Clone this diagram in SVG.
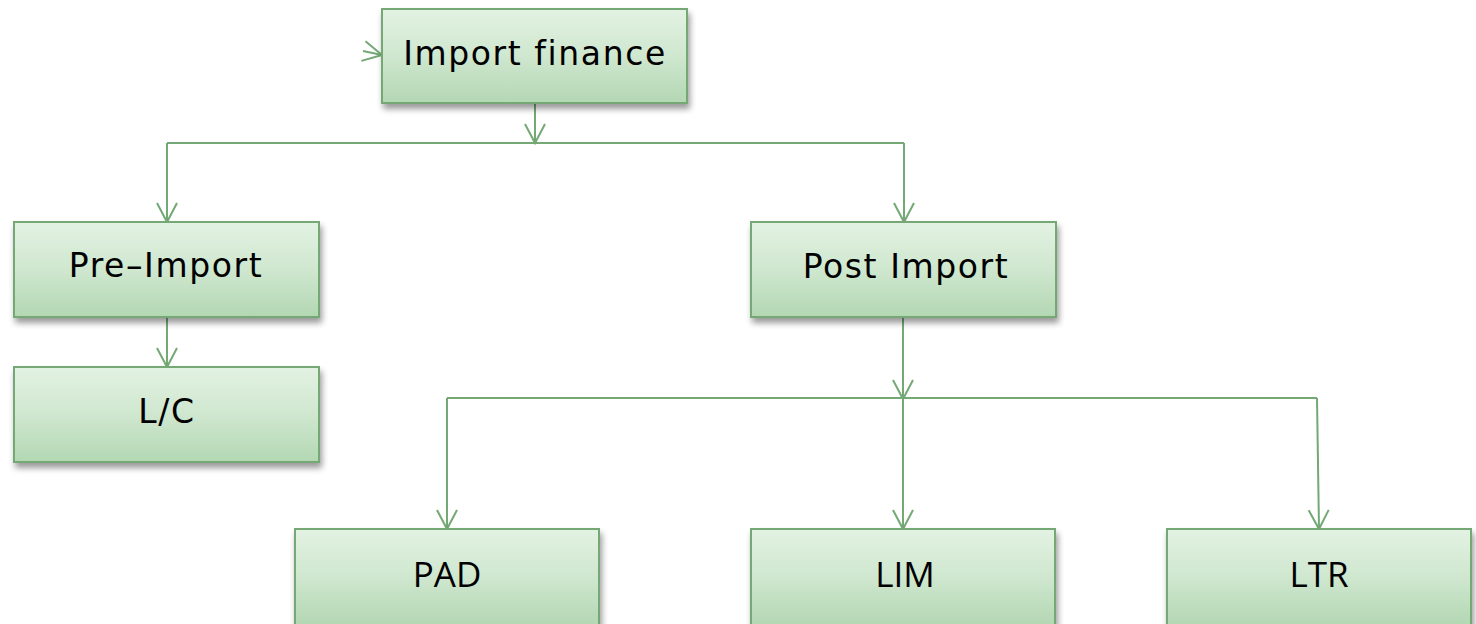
<svg xmlns="http://www.w3.org/2000/svg" width="1476" height="624" viewBox="0 0 1476 624">
<style>
.box{fill:url(#g);stroke:#74a875;stroke-width:2;filter:url(#sh)}
.t{font-family:"DejaVu Sans",sans-serif;font-size:33px;letter-spacing:1.6px;fill:#000;text-anchor:middle}
.t2{font-family:"Open Sans",sans-serif;font-size:35px;fill:#000;text-anchor:middle}
.c{fill:none;stroke:#74a875;stroke-width:2;marker-end:url(#a)}
.l{fill:none;stroke:#74a875;stroke-width:2}
</style>
<defs>
<linearGradient id="g" x1="0" y1="0" x2="0" y2="1">
<stop offset="0" stop-color="#e3f2e3"/>
<stop offset="0.5" stop-color="#cfe7cf"/>
<stop offset="1" stop-color="#b3d7b3"/>
</linearGradient>
<filter id="sh" x="-10%" y="-20%" width="130%" height="150%">
<feGaussianBlur in="SourceAlpha" stdDeviation="3"/>
<feOffset dx="2" dy="5" result="b"/>
<feComponentTransfer><feFuncA type="linear" slope="0.4"/></feComponentTransfer>
<feMerge><feMergeNode/><feMergeNode in="SourceGraphic"/></feMerge>
</filter>
<marker id="a" markerUnits="userSpaceOnUse" markerWidth="24" markerHeight="24" refX="20" refY="11" orient="auto" viewBox="0 0 24 22">
<path d="M1,1 L20,11 L1,21" fill="none" stroke="#74a875" stroke-width="2"/>
</marker>
</defs>
<g id="connectors">
<path class="c" d="M363,51 L382,55"/>
<path class="c" d="M535,103 L535,143"/>
<path class="l" d="M167,143 L904,143"/>
<path class="c" d="M167,143 L167,222"/>
<path class="c" d="M904,143 L904,222"/>
<path class="c" d="M167,317 L167,367"/>
<path class="c" d="M903,317 L903,399"/>
<path class="c" d="M903,399 L903,529"/>
<path class="l" d="M447,398 L1317,398"/>
<path class="c" d="M447,398 L447,529"/>
<path class="c" d="M1317,398 L1319,529"/>
</g>
<g id="n-import-finance">
<rect class="box" x="382" y="9" width="305" height="94"/>
<text class="t" x="535" y="65">Import finance</text>
</g>
<g id="n-pre-import">
<rect class="box" x="14" y="222" width="305" height="95"/>
<text class="t" x="166" y="277">Pre–Import</text>
</g>
<g id="n-post-import">
<rect class="box" x="751" y="222" width="305" height="95"/>
<text class="t" x="906" y="278">Post Import</text>
</g>
<g id="n-lc">
<rect class="box" x="14" y="367" width="305" height="95"/>
<text class="t" x="167" y="423">L/C</text>
</g>
<g id="n-pad">
<rect class="box" x="295" y="529" width="304" height="96"/>
<text class="t2" x="447" y="587">PAD</text>
</g>
<g id="n-lim">
<rect class="box" x="751" y="529" width="304" height="96"/>
<text class="t2" x="905" y="587">LIM</text>
</g>
<g id="n-ltr">
<rect class="box" x="1167" y="529" width="304" height="96"/>
<text class="t2" x="1319" y="587">LTR</text>
</g>
</svg>
